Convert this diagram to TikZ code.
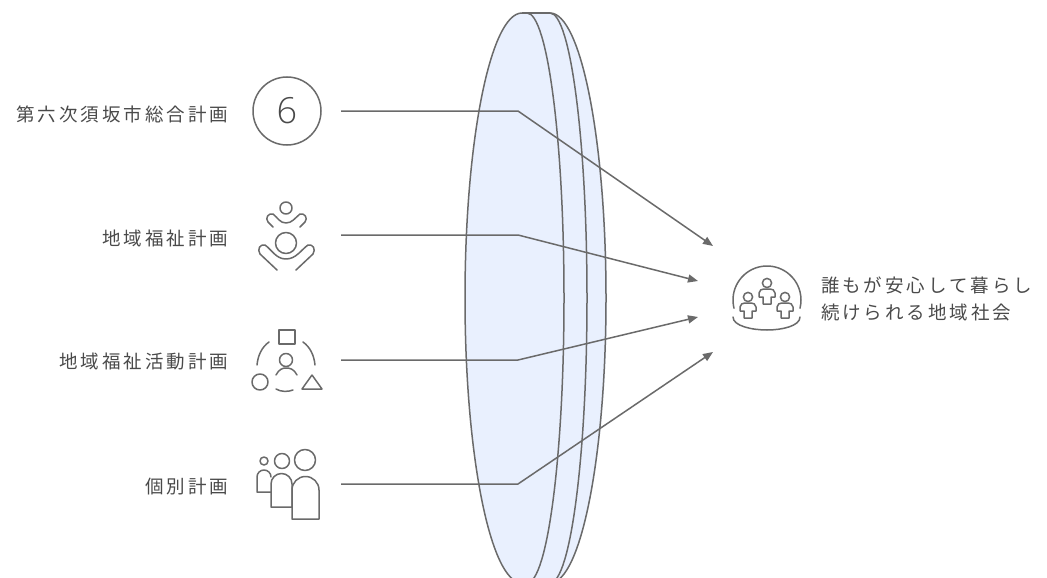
\documentclass[tikz,border=0pt]{standalone}
\usepackage{fontspec}
\usetikzlibrary{arrows.meta}
\newfontfamily\cjkfont[LetterSpace=16]{Noto Sans CJK JP}
\newfontfamily\thinfont{Open Sans Light}
\setmainfont{Liberation Sans}
\definecolor{ink}{HTML}{6A6A6A}
\definecolor{txt}{HTML}{4A4A4A}
\definecolor{lens}{HTML}{E9F0FE}
\tikzset{
  lbl/.style={inner sep=0pt,outer sep=0pt,text=txt,font=\cjkfont\fontsize{18.5}{27}\selectfont},
  line/.style={draw=ink,line width=1.5pt},
  icon/.style={draw=ink,line width=1.5pt,line join=round,line cap=round},
  conn/.style={draw=ink,line width=1.5pt,-{Triangle[length=10pt,width=8pt]}},
  slot/.style={inner sep=0pt,outer sep=0pt,minimum size=66pt},
}
\begin{document}
\begin{tikzpicture}[x=1pt,y=-1pt]
\useasboundingbox (0,0) rectangle (1047,578);
\clip (0,0) rectangle (1047,578);
% lens
\fill[white] (0,0) rectangle (1047,578);
\fill[lens] (522,13) arc[start angle=-90,end angle=-270,x radius=57,y radius=285]
  -- (550,583) arc[start angle=90,end angle=-90,x radius=57,y radius=285] -- cycle;
\draw[line] (522,13) arc[start angle=-90,end angle=-270,x radius=57,y radius=285];
\draw[line] (522,13) -- (550,13);
\draw[line] (527,13) arc[start angle=-90,end angle=90,x radius=37,y radius=285];
\draw[line] (550,13) arc[start angle=-90,end angle=90,x radius=37,y radius=285];
\draw[line] (550,13) arc[start angle=-90,end angle=90,x radius=56,y radius=285];
% labels
\node[lbl,anchor=east] (l1) at (228,114) {第六次須坂市総合計画};
\node[lbl,anchor=east] (l2) at (228,238) {地域福祉計画};
\node[lbl,anchor=east] (l3) at (228,362) {地域福祉活動計画};
\node[lbl,anchor=east] (l4) at (228,487) {個別計画};
\node[lbl,anchor=west,align=left] (goal) at (821,298.5) {誰もが安心して暮らし\\続けられる地域社会};
% icon 1
\node[slot,circle,draw=ink,line width=1.5pt,minimum size=68pt,text=txt,font=\thinfont\fontsize{36}{36}\selectfont] (i1) at (287,111) {6};
% icon 2
\node[slot] (i2) at (287,235) {};
\draw[icon] (286,208) circle[radius=6];
\draw[icon] (273,227) -- (268,222) .. controls (265,218) and (268,213) .. (273,214)
  .. controls (278,218) and (280,223) .. (286,223) .. controls (292,223) and (295,218) .. (300,214)
  .. controls (305,213) and (308,218) .. (305,222) -- (300,227);
\draw[icon] (286,243) circle[radius=10.5];
\draw[icon] (277,270) -- (260,254) .. controls (257,249) and (260,244) .. (265,245)
  .. controls (272,250) and (276,259) .. (286,259) .. controls (296,259) and (301,250) .. (308,245)
  .. controls (313,244) and (316,249) .. (313,254) -- (296,270);
% icon 3
\node[slot] (i3) at (287,360) {};
\draw[icon] (279,330) rectangle (295,344);
\draw[icon] (257,365) .. controls (258,355) and (262,347) .. (269,342);
\draw[icon] (303,342) .. controls (310,347) and (314,355) .. (315,365);
\draw[icon] (276,389) .. controls (281,392) and (288,392) .. (293,390);
\draw[icon] (260,382) circle[radius=8];
\draw[icon] (302,389) -- (322,389) -- (312,375) -- cycle;
\draw[icon] (286,360) circle[radius=6.5];
\draw[icon] (276,375) .. controls (279,369) and (283,368) .. (286,368) .. controls (290,368) and (294,369) .. (297,375);
% icon 4
\node[slot] (i4) at (287,488) {};
\draw[icon] (264,461) circle[radius=4];
\draw[icon] (282,461) circle[radius=7.5];
\draw[icon] (305,460) circle[radius=10.5];
\draw[icon] (271,492) -- (257,492) -- (257,477) arc[start angle=180,end angle=360,radius=7];
\draw[icon] (292,507) -- (271,507) -- (271,484) arc[start angle=180,end angle=360,radius=10.5] -- (292,507);
\draw[icon] (292,519) -- (292,490) arc[start angle=180,end angle=360,radius=13.5] -- (319,519) -- cycle;
% goal icon
\node[slot] (ig) at (767,298) {};
\draw[icon] (767,300) ++(166:34) arc[start angle=166,end angle=374,radius=34];
\draw[icon] (733,317) .. controls (733,326) and (752,330) .. (767,330) .. controls (782,330) and (800,326) .. (800,317);
\foreach \dx/\dy in {0/0,-19/14,18/14}{
  \begin{scope}[shift={(\dx,\dy)}]
    \draw[icon] (767,283) circle[radius=4.6];
    \draw[icon] (763,304) -- (771,304) -- (771,297) -- (775,297) -- (775,293)
      .. controls (775,290) and (772,289) .. (770,289) -- (764,289)
      .. controls (762,289) and (759,290) .. (759,293) -- (759,297) -- (763,297) -- cycle;
  \end{scope}
}
% connectors
\coordinate (s1) at (341,111); \coordinate (b1) at (518,111); \coordinate (t1) at (713,246);
\coordinate (s2) at (341,235); \coordinate (b2) at (518,235); \coordinate (t2) at (698,281);
\coordinate (s3) at (341,360); \coordinate (b3) at (518,360); \coordinate (t3) at (698,317);
\coordinate (s4) at (341,484); \coordinate (b4) at (518,484); \coordinate (t4) at (713,352);
\draw[conn] (s1) -- (b1) -- (t1);
\draw[conn] (s2) -- (b2) -- (t2);
\draw[conn] (s3) -- (b3) -- (t3);
\draw[conn] (s4) -- (b4) -- (t4);
\end{tikzpicture}
\end{document}
